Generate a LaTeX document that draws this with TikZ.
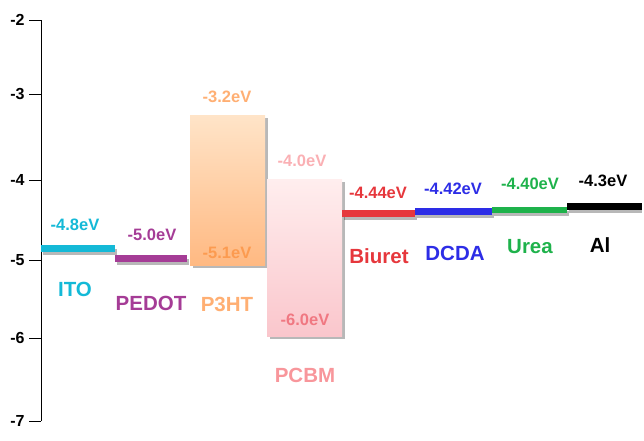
\documentclass[tikz,border=0pt]{standalone}
\usepackage{fontspec}
\setmainfont{Liberation Sans}
\begin{document}
\begin{tikzpicture}[x=1pt,y=-1pt,
  lbl/.style={font=\bfseries\fontsize{16.5}{16.5}\selectfont, inner sep=0pt},
  nm/.style={font=\bfseries\fontsize{20.5}{20.5}\selectfont, inner sep=0pt},
  tk/.style={font=\bfseries\fontsize{16}{16}\selectfont, inner sep=0pt, anchor=east},
  shadow/.style={fill=black, opacity=0.28},
]
\definecolor{ito}{RGB}{20,185,215}
\definecolor{pedot}{RGB}{165,60,150}
\definecolor{ptop}{RGB}{255,228,200}
\definecolor{pbot}{RGB}{255,185,130}
\definecolor{plbl}{RGB}{255,175,115}
\definecolor{pin}{RGB}{252,155,80}
\definecolor{ctop}{RGB}{255,238,238}
\definecolor{cbot}{RGB}{250,198,204}
\definecolor{clbl}{RGB}{248,150,155}
\definecolor{cin}{RGB}{240,120,130}
\definecolor{biu}{RGB}{230,55,60}
\definecolor{dcda}{RGB}{45,45,230}
\definecolor{urea}{RGB}{30,178,75}
\useasboundingbox (0,0) rectangle (644,440);
% axis
\coordinate (atop) at (41,20);
\coordinate (abot) at (41,421);
\draw[line width=1pt] (atop) -- (abot);
\foreach \v/\y in {2/20,3/94,4/180,5/260,6/338,7/421}{
  \coordinate (t\v) at (41,\y);
  \draw[line width=0.8pt] (t\v) -- ++(-12,0) node[tk, xshift=-4pt] (tl\v) {-\v};
}
% shadows
\fill[shadow] (43,249) rectangle (117,255);
\fill[shadow] (117,259) rectangle (189,265);
\fill[shadow] (193,118) rectangle (268,268);
\fill[shadow] (270,182) rectangle (345,339);
\fill[shadow] (344,214) rectangle (417,220);
\fill[shadow] (417,212) rectangle (494,218);
\fill[shadow] (494,211) rectangle (569,216);
\fill[shadow] (569,207) rectangle (642,213);
% bars
\fill[ito] (41,245) rectangle (115,252);
\fill[pedot] (115,255) rectangle (187,262);
\shade[top color=ptop, bottom color=pbot] (190,115) rectangle (265,265);
\shade[top color=ctop, bottom color=cbot] (267,179) rectangle (342,336);
\fill[biu] (342,210) rectangle (415,217);
\fill[dcda] (415,208) rectangle (492,215);
\fill[urea] (492,207) rectangle (567,213);
\fill[black] (567,203) rectangle (642,210);
% labels
\node[lbl, text=ito] (v1) at (75,225) {-4.8eV};
\node[nm, text=ito] (n1) at (75,289) {ITO};
\node[lbl, text=pedot] (v2) at (152,235) {-5.0eV};
\node[nm, text=pedot] (n2) at (151,303) {PEDOT};
\node[lbl, text=plbl] (v3) at (227,97) {-3.2eV};
\node[lbl, text=pin] (v3b) at (227,253) {-5.1eV};
\node[nm, text=plbl] (n3) at (227,304) {P3HT};
\node[lbl, text=clbl!75!white] (v4) at (302,161) {-4.0eV};
\node[lbl, text=cin] (v4b) at (305,320) {-6.0eV};
\node[nm, text=clbl] (n4) at (305,375) {PCBM};
\node[lbl, text=biu] (v5) at (378,193) {-4.44eV};
\node[nm, text=biu] (n5) at (379,256) {Biuret};
\node[lbl, text=dcda] (v6) at (453,189) {-4.42eV};
\node[nm, text=dcda] (n6) at (455,253) {DCDA};
\node[lbl, text=urea] (v7) at (530,184) {-4.40eV};
\node[nm, text=urea] (n7) at (530,247) {Urea};
\node[lbl, text=black] (v8) at (603,181) {-4.3eV};
\node[nm, text=black] (n8) at (600,245) {Al};
\end{tikzpicture}
\end{document}
